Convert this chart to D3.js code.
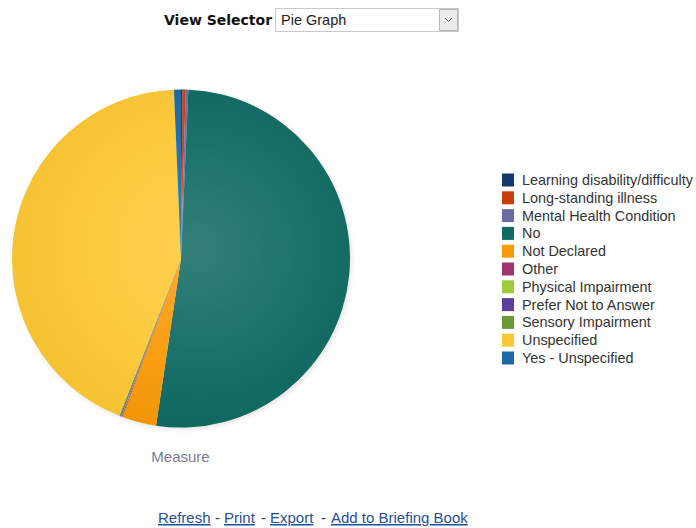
<!DOCTYPE html>
<html>
<head>
<meta charset="utf-8">
<script src="https://cdn.jsdelivr.net/npm/d3@7"></script>
<style>
  html, body { margin: 0; padding: 0; background: #fff; }
  svg { display: block; }
</style>
</head>
<body>
<svg id="chart" width="696" height="528"></svg>
<script>
const categories = [
  "Learning disability/difficulty",
  "Long-standing illness",
  "Mental Health Condition",
  "No",
  "Not Declared",
  "Other",
  "Physical Impairment",
  "Prefer Not to Answer",
  "Sensory Impairment",
  "Unspecified",
  "Yes - Unspecified"
];
const values = [5, 11, 9, 1860, 118, 3, 2, 3, 3, 1562, 24];
const colors = [
  "#123c6c", "#cc3d10", "#6c6ca6", "#0f6a62", "#fa9a08", "#a0346e",
  "#a0c93c", "#5b3f9a", "#6a9a34", "#fdc834", "#1b6aa3"
];
const links = ["Refresh", "Print", "Export", "Add to Briefing Book"];

const svg = d3.select("#chart");
const font = "'Liberation Sans', Arial, sans-serif";

// View selector
svg.append("text").attr("x", 164).attr("y", 25)
  .attr("font-family", "'DejaVu Sans', Verdana, sans-serif").attr("font-weight", "bold")
  .attr("font-size", 14).attr("fill", "#111").text("View Selector");
svg.append("rect").attr("x", 275.5).attr("y", 8.5).attr("width", 183).attr("height", 23)
  .attr("fill", "#fff").attr("stroke", "#c9c9c9");
svg.append("text").attr("x", 281).attr("y", 25).attr("font-family", font)
  .attr("font-size", 14.5).attr("fill", "#222").text("Pie Graph");
svg.append("rect").attr("x", 439.5).attr("y", 9.5).attr("width", 18).attr("height", 21)
  .attr("fill", "#ececec").attr("stroke", "#b5b5b5");
svg.append("path").attr("d", "M445,18 L448.5,21.5 L452,18").attr("fill", "none")
  .attr("stroke", "#555").attr("stroke-width", 1);

// Pie
const cx = 181, cy = 258.5, r = 169;
const defs = svg.append("defs");
const grad = defs.append("radialGradient").attr("id", "shade")
  .attr("cx", "0.55").attr("cy", "0.47").attr("r", "0.55");
grad.append("stop").attr("offset", "0%").attr("stop-color", "#fff").attr("stop-opacity", 0.15);
grad.append("stop").attr("offset", "65%").attr("stop-color", "#fff").attr("stop-opacity", 0.04);
grad.append("stop").attr("offset", "100%").attr("stop-color", "#000").attr("stop-opacity", 0.03);
const blur = defs.append("filter").attr("id", "sh").attr("x", "-10%").attr("y", "-10%")
  .attr("width", "120%").attr("height", "120%");
blur.append("feGaussianBlur").attr("stdDeviation", 2.5);

const g = svg.append("g").attr("transform", `translate(${cx},${cy})`);
g.append("circle").attr("cx", 2).attr("cy", 2).attr("r", r).attr("fill", "#000")
  .attr("opacity", 0.1).attr("filter", "url(#sh)");

const pie = d3.pie().sort(null).value(d => d)(values);
const arc = d3.arc().innerRadius(0).outerRadius(r);
g.selectAll("path.slice").data(pie).join("path").attr("class", "slice")
  .attr("d", arc).attr("fill", (d, i) => colors[i]);
g.append("circle").attr("r", r).attr("fill", "url(#shade)");

// Measure label
svg.append("text").attr("x", 180.5).attr("y", 462).attr("text-anchor", "middle")
  .attr("font-family", font).attr("font-size", 15).attr("fill", "#7b7b8e").text("Measure");

// Legend
const y0 = 180, step = 17.8;
const lg = svg.append("g");
categories.forEach((c, i) => {
  const y = y0 + i * step;
  lg.append("rect").attr("x", 502).attr("y", y - 6.5).attr("width", 12).attr("height", 13)
    .attr("fill", colors[i]);
  lg.append("text").attr("x", 522).attr("y", y + 5).attr("font-family", font)
    .attr("font-size", 14.4).attr("fill", "#333").text(c);
});

// Links
const linkX = [158, 224, 270, 331];
const dashX = [215, 261, 321];
const ly = 523;
links.forEach((t, i) => {
  svg.append("text").attr("x", linkX[i]).attr("y", ly).attr("font-family", font)
    .attr("font-size", 15).attr("fill", "#1f4f99").attr("text-decoration", "underline").text(t);
});
dashX.forEach(x => {
  svg.append("text").attr("x", x).attr("y", ly).attr("font-family", font)
    .attr("font-size", 15).attr("fill", "#333").text("-");
});
</script>
</body>
</html>
